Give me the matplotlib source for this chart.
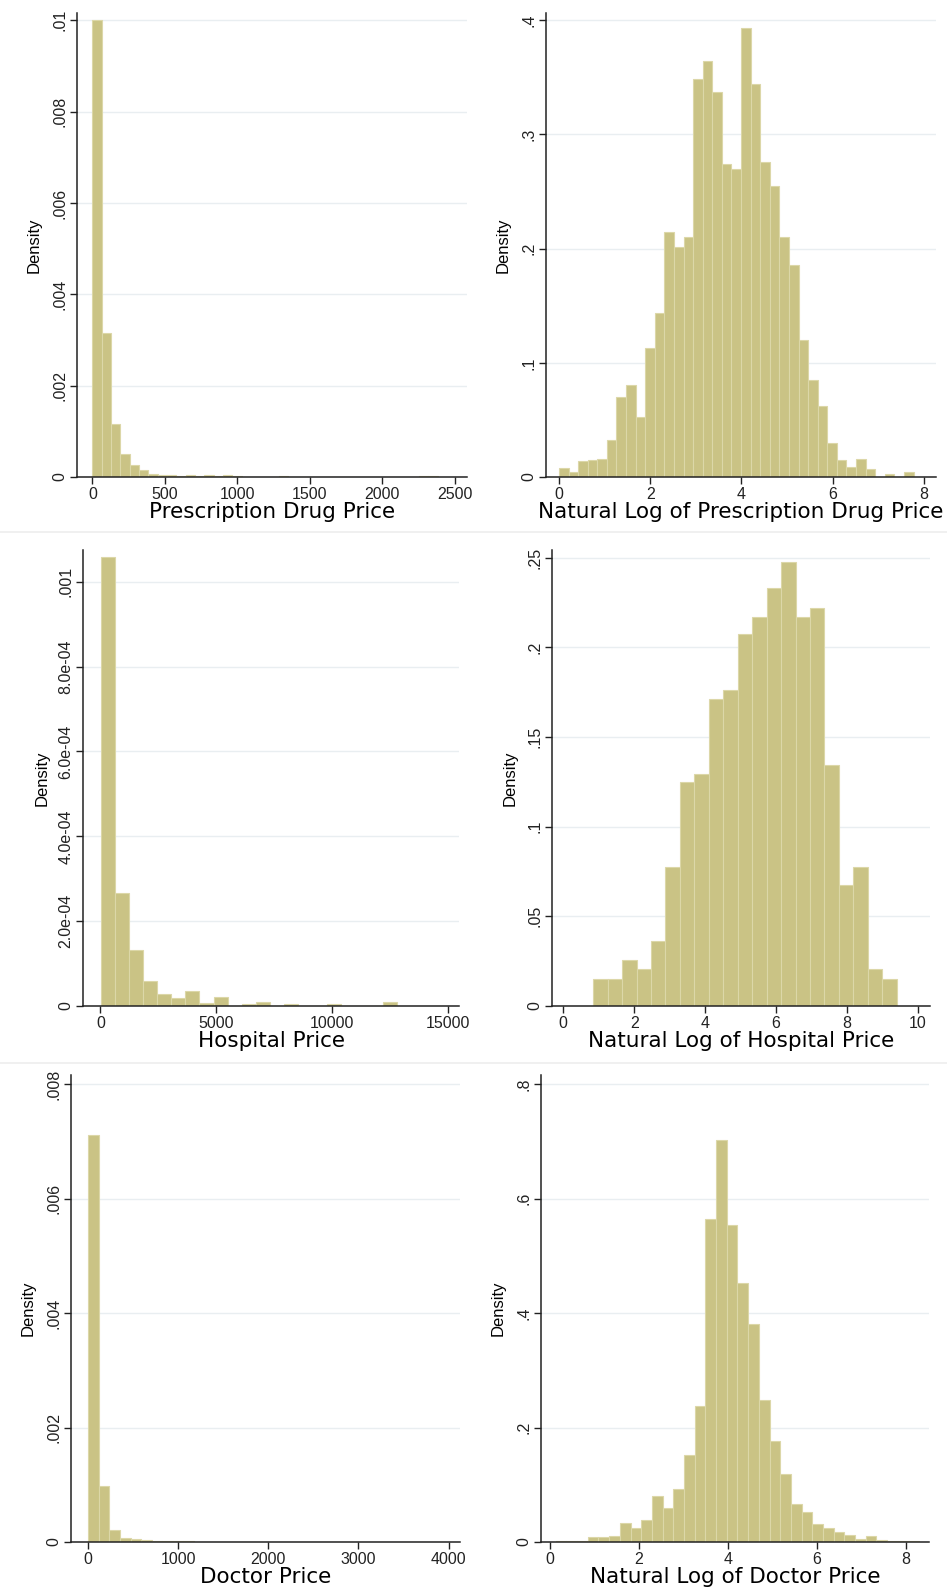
import numpy as np
import matplotlib
matplotlib.use("Agg")
import matplotlib.pyplot as plt

plt.rcParams['font.family'] = ['Liberation Sans', 'DejaVu Sans']

# Histogram densities (Stata-style, equal-width bins)
drug_start, drug_width = 0.0, 64.4
drug_density = [0.0100, 0.00316, 0.00117, 0.00051, 0.00027, 0.000146, 0.000073,
                0.000044, 0.000036, 0.00003, 0.000044, 0.00002, 0.000044, 0.00002,
                0.000044, 0.000015, 0, 0, 0, 0, 0.000015, 0, 0, 0, 0, 0, 0, 0,
                0, 0, 0, 0, 0, 0, 0, 0.000015, 0.000015]

lndrug_start, lndrug_width = 0.0, 0.2102
lndrug_density = [0.0076, 0.0044, 0.0137, 0.0146, 0.0155, 0.032, 0.0703, 0.0805,
                  0.0528, 0.113, 0.1435, 0.2147, 0.2016, 0.2106, 0.349, 0.3647,
                  0.3376, 0.274, 0.270, 0.393, 0.3446, 0.276, 0.2547, 0.2106,
                  0.186, 0.120, 0.0846, 0.062, 0.030, 0.015, 0.009, 0.0155,
                  0.0073, 0.0, 0.0023, 0.0, 0.0047]

hosp_start, hosp_width = 2.3, 610.4
hosp_density = [0.001058, 0.000266, 0.000133, 0.00006, 0.000028, 0.0000184,
                0.0000344, 0.0000064, 0.0000208, 0, 0.0000048, 0.0000088, 0,
                0.000004, 0, 0, 0.000004, 0, 0, 0, 0.0000088]

lnhosp_start, lnhosp_width = 0.843, 0.408
lnhosp_density = [0.0153, 0.0153, 0.0259, 0.0208, 0.0365, 0.0776, 0.1249,
                  0.1293, 0.1709, 0.176, 0.2072, 0.2167, 0.2328, 0.2477, 0.2167,
                  0.222, 0.1344, 0.0676, 0.0776, 0.0208, 0.0153]

doc_start, doc_width = 1.14, 117.0
doc_density = [0.007114, 0.000975, 0.000215, 0.000075, 0.00005, 0.00003,
               0.000022, 0.000018, 0.000012, 0.000010, 0.000008, 0.000008,
               0.000006, 0.000006, 0.000005, 0.000005, 0.000004, 0.000004,
               0.000004, 0.000004, 0.000003, 0.000003, 0.000002, 0.000002, 0,
               0, 0, 0, 0, 0, 0, 0, 0, 0.000002]

lndoc_start, lndoc_width = 0.13, 0.2403
lndoc_density = [0.002, 0.002, 0.002, 0.009, 0.009, 0.011, 0.033, 0.025, 0.038,
                 0.081, 0.060, 0.093, 0.152, 0.237, 0.565, 0.702, 0.554, 0.452,
                 0.381, 0.248, 0.176, 0.119, 0.067, 0.052, 0.031, 0.025, 0.018,
                 0.013, 0.006, 0.010, 0.004, 0.002, 0.001, 0.001]

# Axis ticks and labels
drug_xticks = [0, 500, 1000, 1500, 2000, 2500]
drug_yticks = [0, 0.002, 0.004, 0.006, 0.008, 0.01]
drug_ylabels = ['0', '.002', '.004', '.006', '.008', '.01']
lndrug_xticks = [0, 2, 4, 6, 8]
lndrug_yticks = [0, 0.1, 0.2, 0.3, 0.4]
lndrug_ylabels = ['0', '.1', '.2', '.3', '.4']
hosp_xticks = [0, 5000, 10000, 15000]
hosp_yticks = [0, 0.0002, 0.0004, 0.0006, 0.0008, 0.001]
hosp_ylabels = ['0', '2.0e-04', '4.0e-04', '6.0e-04', '8.0e-04', '.001']
lnhosp_xticks = [0, 2, 4, 6, 8, 10]
lnhosp_yticks = [0, 0.05, 0.1, 0.15, 0.2, 0.25]
lnhosp_ylabels = ['0', '.05', '.1', '.15', '.2', '.25']
doc_xticks = [0, 1000, 2000, 3000, 4000]
doc_yticks = [0, 0.002, 0.004, 0.006, 0.008]
doc_ylabels = ['0', '.002', '.004', '.006', '.008']
lndoc_xticks = [0, 2, 4, 6, 8]
lndoc_yticks = [0, 0.2, 0.4, 0.6, 0.8]
lndoc_ylabels = ['0', '.2', '.4', '.6', '.8']

FILL = '#cac385'
EDGE = '#dcd7a8'
GRID = '#e9eef1'

W, H = 947, 1592
fig = plt.figure(figsize=(W / 100, H / 100), dpi=100)


def panel(box, xlim, ylim):
    left, right, top, bottom = box
    return fig.add_axes([left / W, 1 - bottom / H, (right - left) / W, (bottom - top) / H],
                        xlim=xlim, ylim=ylim)


def draw_hist(ax, start, width, dens, xticks, yticks, ylabels, xlabel):
    edges = start + width * np.arange(len(dens))
    ax.bar(edges, dens, width=width, align='edge', color=FILL,
           edgecolor=EDGE, linewidth=0.8, zorder=2)
    ax.set_xticks(xticks)
    ax.set_yticks(yticks)
    ax.set_yticklabels(ylabels, rotation=90, va='center', ha='right')
    ax.yaxis.grid(True, color=GRID, linewidth=1.0, zorder=0)
    ax.set_axisbelow(True)
    for side in ('top', 'right'):
        ax.spines[side].set_visible(False)
    for side in ('left', 'bottom'):
        ax.spines[side].set_color('#222222')
        ax.spines[side].set_linewidth(1.1)
    ax.tick_params(direction='out', length=5, width=1, colors='#222222',
                   labelsize=11.5, pad=2)
    ax.set_xlabel(xlabel, fontsize=15.5, labelpad=0,
                  family=['DejaVu Sans'])
    ax.set_ylabel('Density', fontsize=12)
    ax.yaxis.set_label_coords(-0.09, 0.5)


ax1 = panel((77, 467, 13, 477), (-106, 2585), (0, 0.01016))
draw_hist(ax1, drug_start, drug_width, drug_density, drug_xticks,
          drug_yticks, drug_ylabels, 'Prescription Drug Price')

ax2 = panel((546, 936, 13, 477), (-0.285, 8.27), (0, 0.4064))
draw_hist(ax2, lndrug_start, lndrug_width, lndrug_density, lndrug_xticks,
          lndrug_yticks, lndrug_ylabels, 'Natural Log of Prescription Drug Price')

ax3 = panel((83, 459, 550, 1006), (-756, 15492), (0, 0.001075))
draw_hist(ax3, hosp_start, hosp_width, hosp_density, hosp_xticks,
          hosp_yticks, hosp_ylabels, 'Hospital Price')

ax4 = panel((552, 930, 550, 1006), (-0.319, 10.35), (0, 0.2542))
draw_hist(ax4, lnhosp_start, lnhosp_width, lnhosp_density, lnhosp_xticks,
          lnhosp_yticks, lnhosp_ylabels, 'Natural Log of Hospital Price')

ax5 = panel((71, 460, 1075, 1542), (-192, 4127), (0, 0.008164))
draw_hist(ax5, doc_start, doc_width, doc_density, doc_xticks,
          doc_yticks, doc_ylabels, 'Doctor Price')

ax6 = panel((541, 929, 1075, 1542), (-0.2, 8.52), (0, 0.8164))
draw_hist(ax6, lndoc_start, lndoc_width, lndoc_density, lndoc_xticks,
          lndoc_yticks, lndoc_ylabels, 'Natural Log of Doctor Price')

# faint borders between the stacked graph rows
for yline in (532, 1063):
    fig.add_artist(plt.Line2D([0, 1], [1 - yline / H] * 2, color='#eeeeee',
                              linewidth=1.2, transform=fig.transFigure))

fig.savefig('out.png', dpi=100, facecolor='white')
